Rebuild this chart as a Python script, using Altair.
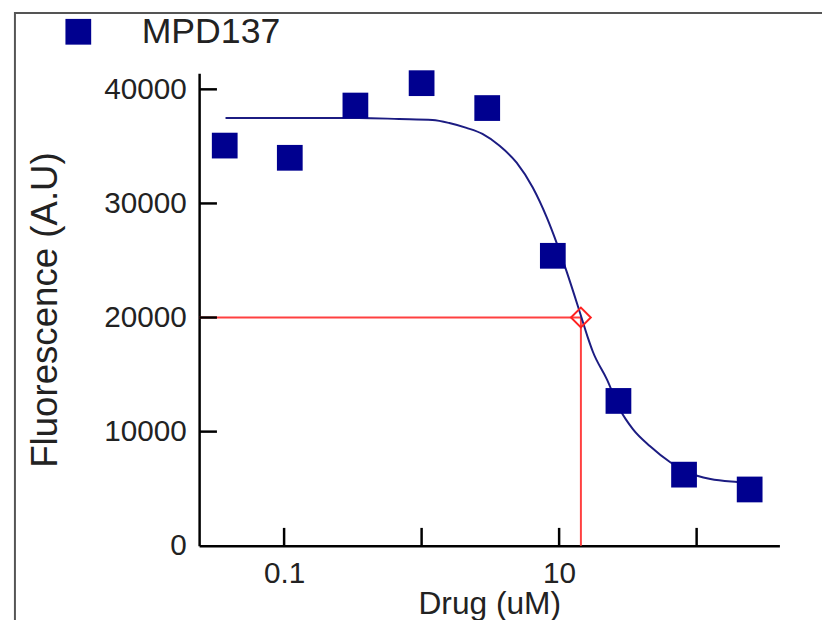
import altair as alt
import pandas as pd

# Measured data points (drug concentration in uM, fluorescence in A.U.)
conc = [0.037, 0.11, 0.33, 1.0, 3.0, 9.0, 27.0, 81.0, 243.0]
fluor = [35070, 34000, 38580, 40540, 38360, 25410, 12690, 6230, 4930]

# Fitted curve
fit_x = [0.0375, 0.128, 0.351, 0.687, 1.20, 1.59, 2.12, 2.77, 3.69, 4.91, 6.43,
         8.13, 9.62, 11.38, 14.2, 16.2, 17.6, 22.3, 27.7, 34.5, 45.9, 64.3,
         85.5, 126, 198, 251]
fit_y = [37490, 37490, 37490, 37400, 37310, 37050, 36620, 36090, 35050, 33570,
         31390, 28770, 26500, 23980, 20400, 18220, 17000, 14560, 11940, 10200,
         8720, 7320, 6450, 5840, 5580, 5490]

# IC50 marker
ic50_x = [14.4]
ic50_y = [20000]

x_ticks = [0.1, 1, 10, 100]
x_labels = [0.1, 10]
y_ticks = [0, 10000, 20000, 30000, 40000]
series = ["MPD137"]

W, H = 586, 477
FONT = "Liberation Sans"

pts = pd.DataFrame({"conc": conc, "fluor": fluor, "series": series * len(conc)})
fit = pd.DataFrame({"conc": fit_x, "fluor": fit_y})
ic = pd.DataFrame({"conc": ic50_x, "fluor": ic50_y})
xt = pd.DataFrame({"conc": x_ticks})
yt = pd.DataFrame({"fluor": y_ticks[1:]})

xs = alt.Scale(type="log", domain=[0.0241, 400], nice=False)
ys = alt.Scale(domain=[0, 41400], nice=False, zero=False)

ax_x = alt.Axis(
    values=x_labels, format="~g", ticks=False, tickSize=0, grid=False,
    labelFont=FONT, labelFontSize=30, labelColor="#222222", labelPadding=13,
    domainColor="black", domainWidth=2.5,
    title="Drug (uM)", titleFont=FONT, titleFontSize=32,
    titleFontWeight="normal", titleColor="#222222", titlePadding=0,
    labelFlush=False)
ax_y = alt.Axis(
    values=y_ticks, format="d", ticks=False, tickSize=0, grid=False,
    labelFont=FONT, labelFontSize=30, labelColor="#222222", labelPadding=13,
    domainColor="black", domainWidth=2.5,
    title="Fluorescence (A.U)", titleFont=FONT, titleFontSize=37,
    titleFontWeight="normal", titleColor="#222222", titlePadding=40,
    labelFlush=False)

X = alt.X("conc:Q", scale=xs, axis=ax_x)
Y = alt.Y("fluor:Q", scale=ys, axis=ax_y)

frame = alt.Chart(pd.DataFrame({"a": [0]})).mark_rect(
    fill=None, stroke="#555555", strokeWidth=2, clip=False
).encode(
    x=alt.value(-186), x2=alt.value(700), y=alt.value(-61), y2=alt.value(560)
)

points = alt.Chart(pts).mark_square(size=676, opacity=1, filled=True).encode(
    x=X, y=Y,
    color=alt.Color("series:N", scale=alt.Scale(domain=series, range=["#00008F"]),
                    legend=alt.Legend(orient="none", legendX=-140, legendY=-60,
                                      title=None, symbolType="square",
                                      symbolSize=676, symbolStrokeWidth=0,
                                      symbolOpacity=1,
                                      labelFont=FONT, labelFontSize=36,
                                      labelColor="#222222", labelOffset=46)),
)

curve = alt.Chart(fit).mark_line(color="#1c1c82", strokeWidth=2,
                                 interpolate="monotone").encode(x=X, y=Y)

hline = alt.Chart(ic).mark_rule(color="#ff4040", strokeWidth=2).encode(
    x=X, x2=alt.value(0), y=Y)
vline = alt.Chart(ic).mark_rule(color="#ff4040", strokeWidth=2).encode(
    x=X, y=Y, y2=alt.value(H))
diamond = alt.Chart(ic).mark_point(shape="diamond", size=400, filled=False,
                                   color="#ff2020", strokeWidth=2,
                                   opacity=1).encode(x=X, y=Y)

xtick = alt.Chart(xt).mark_rule(color="black", strokeWidth=2.5).encode(
    x=X, y=alt.value(H), y2=alt.value(H - 18))
ytick = alt.Chart(yt).mark_rule(color="black", strokeWidth=2.5).encode(
    y=Y, x=alt.value(0), x2=alt.value(18))

chart = alt.layer(frame, hline, vline, curve, diamond, points, xtick, ytick).properties(
    width=W, height=H,
    autosize=alt.AutoSizeParams(type="none"),
    padding={"left": 193, "top": 63, "right": 43, "bottom": 72},
    background="white",
).configure_view(stroke=None)

chart.save("out.html", embed_options={"renderer": "svg", "actions": False})
